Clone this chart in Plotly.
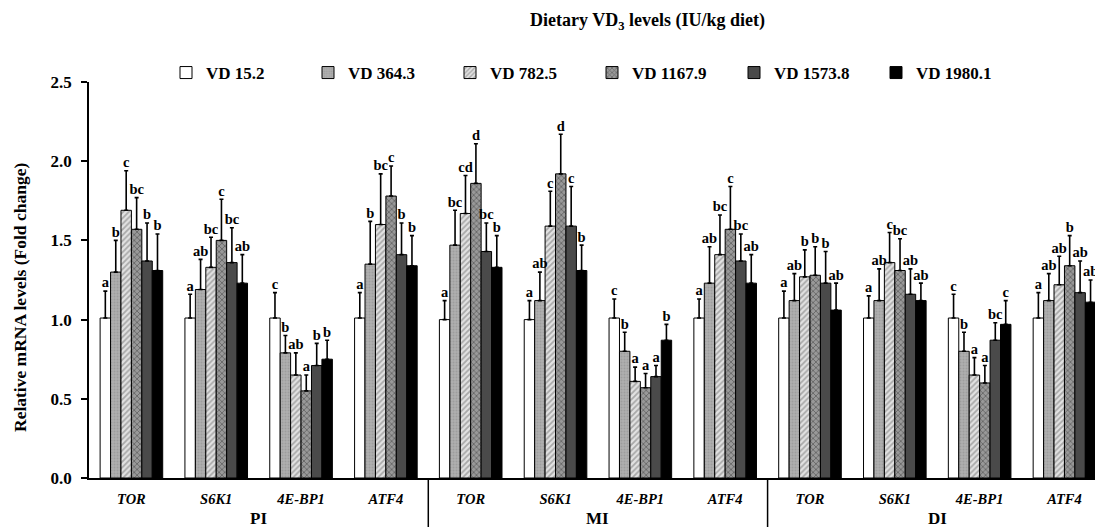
import plotly.graph_objects as go

# ---------------- data ----------------
genes = ["TOR", "S6K1", "4E-BP1", "ATF4"]
tissues = ["PI", "MI", "DI"]
series_names = ["VD 15.2", "VD 364.3", "VD 782.5", "VD 1167.9", "VD 1573.8", "VD 1980.1"]

# values per series, 12 categories (PI TOR, S6K1, 4E-BP1, ATF4, MI ..., DI ...)
vd_15_2 = [1.01, 1.01, 1.01, 1.01, 1.00, 1.00, 1.01, 1.01, 1.01, 1.01, 1.01, 1.01]
vd_364_3 = [1.30, 1.19, 0.79, 1.35, 1.47, 1.12, 0.80, 1.23, 1.12, 1.12, 0.80, 1.12]
vd_782_5 = [1.69, 1.33, 0.65, 1.60, 1.67, 1.59, 0.61, 1.41, 1.27, 1.36, 0.65, 1.22]
vd_1167_9 = [1.57, 1.50, 0.55, 1.78, 1.86, 1.92, 0.57, 1.57, 1.28, 1.31, 0.60, 1.34]
vd_1573_8 = [1.37, 1.36, 0.71, 1.41, 1.43, 1.59, 0.64, 1.37, 1.23, 1.16, 0.87, 1.17]
vd_1980_1 = [1.31, 1.23, 0.75, 1.34, 1.33, 1.31, 0.87, 1.23, 1.06, 1.12, 0.97, 1.11]

# upper error (SD)
err_15_2 = [0.17, 0.15, 0.16, 0.16, 0.12, 0.12, 0.12, 0.12, 0.17, 0.14, 0.15, 0.16]
err_364_3 = [0.20, 0.19, 0.11, 0.27, 0.22, 0.18, 0.12, 0.23, 0.17, 0.20, 0.12, 0.17]
err_782_5 = [0.25, 0.19, 0.14, 0.32, 0.24, 0.22, 0.09, 0.25, 0.17, 0.19, 0.11, 0.18]
err_1167_9 = [0.20, 0.26, 0.10, 0.19, 0.25, 0.25, 0.09, 0.27, 0.18, 0.20, 0.11, 0.19]
err_1573_8 = [0.24, 0.22, 0.14, 0.20, 0.18, 0.25, 0.07, 0.17, 0.20, 0.16, 0.11, 0.20]
err_1980_1 = [0.23, 0.18, 0.12, 0.19, 0.20, 0.16, 0.10, 0.18, 0.17, 0.11, 0.15, 0.14]

# significance letters
let_15_2 = ["a", "a", "c", "a", "a", "a", "c", "a", "a", "a", "c", "a"]
let_364_3 = ["b", "ab", "b", "b", "bc", "ab", "b", "ab", "ab", "ab", "b", "ab"]
let_782_5 = ["c", "bc", "ab", "bc", "cd", "c", "a", "bc", "b", "c", "a", "ab"]
let_1167_9 = ["bc", "c", "a", "c", "d", "d", "a", "c", "b", "bc", "a", "b"]
let_1573_8 = ["b", "bc", "b", "b", "bc", "c", "a", "bc", "b", "ab", "bc", "ab"]
let_1980_1 = ["b", "ab", "b", "b", "b", "b", "b", "ab", "ab", "ab", "c", "ab"]

values = [vd_15_2, vd_364_3, vd_782_5, vd_1167_9, vd_1573_8, vd_1980_1]
errors = [err_15_2, err_364_3, err_782_5, err_1167_9, err_1573_8, err_1980_1]
letters = [let_15_2, let_364_3, let_782_5, let_1167_9, let_1573_8, let_1980_1]

# ---------------- styles ----------------
FONT = "Liberation Serif"
fills = [
    dict(color="white"),
    dict(color="#a9a9a9", pattern=dict(shape=".", fgcolor="#8a8a8a", bgcolor="#b0b0b0", size=3, solidity=0.4)),
    dict(color="white", pattern=dict(shape="/", fgcolor="#6e6e6e", bgcolor="#e2e2e2", size=4, solidity=0.45)),
    dict(color="#777", pattern=dict(shape="x", fgcolor="#333333", bgcolor="#999999", size=4, solidity=0.4)),
    dict(color="#4a4a4a"),
    dict(color="#000000"),
]

ncat = len(genes) * len(tissues)
cats = list(range(ncat))
bw = 0.123

fig = go.Figure()
for i, name in enumerate(series_names):
    xs = [c + (i - 2.5) * bw for c in cats]
    fig.add_trace(go.Bar(
        x=xs, y=values[i], width=bw, name=name,
        marker=dict(line=dict(color="black", width=1), **fills[i]),
        error_y=dict(type="data", symmetric=False, array=errors[i],
                     arrayminus=[0] * ncat, color="black", thickness=1.6, width=2),
    ))
for i, name in enumerate(series_names):
    xs = [c + (i - 2.5) * bw for c in cats]
    tops = [v + e for v, e in zip(values[i], errors[i])]
    fig.add_trace(go.Scatter(
        x=xs, y=tops, mode="text", text=letters[i], textposition="top center",
        textfont=dict(family=FONT, size=14.5, color="black", weight="bold"),
        showlegend=False, hoverinfo="skip", cliponaxis=False,
    ))

ticktext = [f"<b><i>{g}</i></b>" for _ in tissues for g in genes]

fig.update_layout(
    width=1095, height=527,
    margin=dict(l=89, r=0, t=82, b=49),
    paper_bgcolor="white", plot_bgcolor="white",
    font=dict(family=FONT, color="black", size=14),
    barmode="overlay",
    showlegend=True,
    legend=dict(orientation="h", x=(166 - 89) / 1006, y=1 + (82 - 73) / 396,
                xanchor="left", yanchor="middle",
                entrywidth=97, entrywidthmode="pixels",
                font=dict(family=FONT, size=17, color="black", weight="bold"),
                bgcolor="rgba(0,0,0,0)", itemwidth=30, traceorder="normal"),
    xaxis=dict(range=[-0.5, 11.36], tickvals=cats, ticktext=ticktext,
               showline=True, linecolor="black", linewidth=1.5, ticks="",
               showgrid=False, zeroline=False, ticklabelstandoff=7,
               tickfont=dict(family=FONT, size=14.5, color="black")),
    yaxis=dict(range=[0, 2.5], tickvals=[0, 0.5, 1.0, 1.5, 2.0, 2.5], tickformat=".1f",
               showline=True, linecolor="black", linewidth=1.5, ticks="outside",
               ticklen=6, tickwidth=1.5, tickcolor="black", ticklabelstandoff=6,
               showgrid=False, zeroline=False,
               tickfont=dict(family=FONT, size=17, color="black", weight="bold")),
)

# y-axis title (placed slightly below the plot centre as in the reference)
fig.add_annotation(text="<b>Relative mRNA levels (Fold change)</b>", textangle=-90,
                   xref="paper", yref="paper", x=(20 - 89) / 1006, y=1 - (298 - 82) / 396,
                   xanchor="center", yanchor="middle", showarrow=False,
                   font=dict(family=FONT, size=17.5, color="black"))

# title
fig.add_annotation(text="<b>Dietary VD<sub>3</sub> levels (IU/kg diet)</b>",
                   xref="paper", yref="paper", x=(647 - 89) / 1006, y=1 + (82 - 22) / 396,
                   yanchor="middle", showarrow=False,
                   font=dict(family=FONT, size=18, color="black"))

# tissue labels and separators
for k, t in enumerate(tissues):
    fig.add_annotation(text=f"<b>{t}</b>", xref="x", yref="paper", x=4 * k + 1.5,
                       y=-(518 - 478) / 396, yanchor="middle", showarrow=False,
                       font=dict(family=FONT, size=17, color="black"))
for xb in [3.5, 7.5]:
    fig.add_shape(type="line", xref="x", yref="paper", x0=xb, x1=xb, y0=0, y1=-49 / 396,
                  line=dict(color="black", width=1.5))

fig.write_html("out.html", config={"displayModeBar": False},
               post_script="document.body.style.margin='0px';document.body.style.overflow='hidden';")
